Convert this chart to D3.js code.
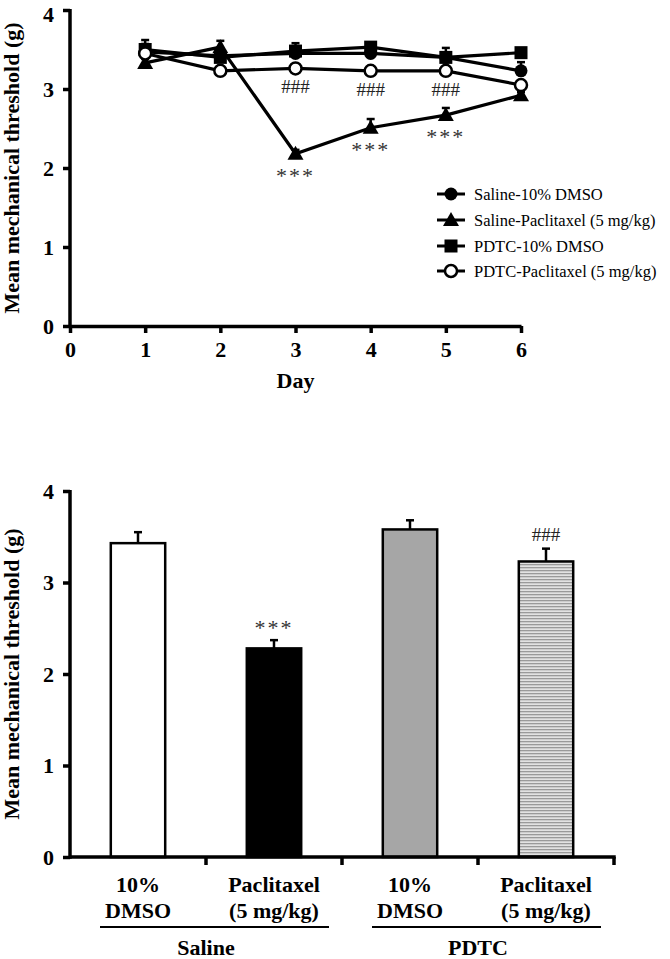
<!DOCTYPE html>
<html>
<head>
<meta charset="utf-8">
<script src="https://cdn.jsdelivr.net/npm/d3@7"></script>
<style>
  body { margin: 0; background: #fff; }
  svg { display: block; }
  text { font-family: "Liberation Serif", "Times New Roman", serif; }
</style>
</head>
<body>
<svg id="chart" width="670" height="959"></svg>
<script>
// ---------- Data: top panel (time course) ----------
const days = [1, 2, 3, 4, 5, 6];
const seriesNames = ["Saline-10% DMSO", "Saline-Paclitaxel (5 mg/kg)", "PDTC-10% DMSO", "PDTC-Paclitaxel (5 mg/kg)"];
const salineDmso = [3.47, 3.42, 3.45, 3.45, 3.40, 3.23];
const salineDmsoSE = [0.10, 0.05, 0.08, 0.08, 0.12, 0.11];
const salinePac = [3.33, 3.53, 2.18, 2.51, 2.67, 2.92];
const salinePacSE = [0.05, 0.08, 0.05, 0.11, 0.09, 0.04];
const pdtcDmso = [3.50, 3.40, 3.48, 3.53, 3.40, 3.46];
const pdtcDmsoSE = [0.12, 0.05, 0.10, 0.05, 0.05, 0.04];
const pdtcPac = [3.45, 3.23, 3.26, 3.23, 3.23, 3.05];
const pdtcPacSE = [0.05, 0.04, 0.04, 0.04, 0.04, 0.05];
const markerTypes = ["circle", "triangle", "square", "open"];
const xTicksTop = [0, 1, 2, 3, 4, 5, 6];
const yTicks = [0, 1, 2, 3, 4];
const starDays = [3, 4, 5];      // *** under Saline-Paclitaxel
const hashDays = [3, 4, 5];      // ### under PDTC-Paclitaxel

// ---------- Data: bottom panel (bars) ----------
const barCats = ["Saline-DMSO", "Saline-Pac", "PDTC-DMSO", "PDTC-Pac"];
const barLine1 = ["10%", "Paclitaxel", "10%", "Paclitaxel"];
const barLine2 = ["DMSO", "(5 mg/kg)", "DMSO", "(5 mg/kg)"];
const barValues = [3.43, 2.28, 3.58, 3.23];
const barSE = [0.12, 0.09, 0.10, 0.14];
const barMarks = ["", "***", "", "###"];
const groups = ["Saline", "PDTC"];

const svg = d3.select("#chart");
const serif = '"Liberation Serif", "Times New Roman", serif';

function styleAxis(g) {
  g.selectAll(".domain").attr("stroke", "#000").attr("stroke-width", 3.5);
  g.selectAll(".tick line").attr("stroke", "#000").attr("stroke-width", 3.5);
  g.selectAll(".tick text").attr("font-family", serif).attr("font-weight", "bold")
    .attr("font-size", 22).attr("fill", "#000");
}

// ================= TOP PANEL =================
const xT = d3.scaleLinear().domain([0, 6]).range([70, 521]);
const yT = d3.scaleLinear().domain([0, 4]).range([326, 10]);
const topG = svg.append("g");

const gxT = topG.append("g").attr("transform", `translate(0,${yT(0)})`)
  .call(d3.axisBottom(xT).tickValues(xTicksTop).tickFormat(d3.format("d")).tickSize(7).tickSizeOuter(0).tickPadding(8));
styleAxis(gxT);
const gyT = topG.append("g").attr("transform", `translate(${xT(0)},0)`)
  .call(d3.axisLeft(yT).tickValues(yTicks).tickFormat(d3.format("d")).tickSize(7).tickSizeOuter(0).tickPadding(9));
styleAxis(gyT);
gyT.select(".domain").attr("d", `M0,${yT(4) - 1}V${yT(0) + 1.75}`);
// keep the top "4" label inside the page
gyT.selectAll(".tick text").filter(d => d === 4).attr("dy", "0.5em");

topG.append("text").attr("transform", `translate(19,${(yT(0) + yT(4)) / 2}) rotate(-90)`)
  .attr("text-anchor", "middle").attr("font-weight", "bold").attr("font-size", 22)
  .text("Mean mechanical threshold (g)");
topG.append("text").attr("x", xT(3)).attr("y", 388).attr("text-anchor", "middle")
  .attr("font-weight", "bold").attr("font-size", 22).text("Day");

const seriesVals = [salineDmso, salinePac, pdtcDmso, pdtcPac];
const seriesSE = [salineDmsoSE, salinePacSE, pdtcDmsoSE, pdtcPacSE];

function drawMarker(g, type, cx, cy) {
  if (type === "circle") {
    g.append("circle").attr("cx", cx).attr("cy", cy).attr("r", 6.5).attr("fill", "#000");
  } else if (type === "open") {
    g.append("circle").attr("cx", cx).attr("cy", cy).attr("r", 6).attr("fill", "#fff")
      .attr("stroke", "#000").attr("stroke-width", 2.5);
  } else if (type === "square") {
    g.append("rect").attr("x", cx - 6.5).attr("y", cy - 6.5).attr("width", 13).attr("height", 13).attr("fill", "#000");
  } else if (type === "triangle") {
    g.append("path").attr("d", `M${cx},${cy - 8}L${cx + 8},${cy + 6}L${cx - 8},${cy + 6}Z`).attr("fill", "#000");
  }
}

const line = d3.line().x((d, i) => xT(days[i])).y(d => yT(d));
const drawOrder = [0, 2, 1, 3];
// error bars
drawOrder.forEach(s => {
  seriesVals[s].forEach((v, i) => {
    const cx = xT(days[i]), y1 = yT(v), y2 = yT(v + seriesSE[s][i]);
    topG.append("line").attr("x1", cx).attr("x2", cx).attr("y1", y1).attr("y2", y2)
      .attr("stroke", "#000").attr("stroke-width", 2.5);
    topG.append("line").attr("x1", cx - 4).attr("x2", cx + 4).attr("y1", y2).attr("y2", y2)
      .attr("stroke", "#000").attr("stroke-width", 2.5);
  });
});
drawOrder.forEach(s => {
  topG.append("path").datum(seriesVals[s]).attr("d", line).attr("fill", "none")
    .attr("stroke", "#000").attr("stroke-width", 3.2);
});
drawOrder.forEach(s => {
  seriesVals[s].forEach((v, i) => drawMarker(topG, markerTypes[s], xT(days[i]), yT(v)));
});

// annotations
starDays.forEach(d => {
  const i = days.indexOf(d);
  topG.append("text").attr("x", xT(d)).attr("y", yT(salinePac[i]) + 29).attr("text-anchor", "middle")
    .attr("font-size", 22).attr("fill", "#333").attr("letter-spacing", 2).text("***");
});
hashDays.forEach(d => {
  const i = days.indexOf(d);
  topG.append("text").attr("x", xT(d)).attr("y", yT(pdtcPac[i]) + 25).attr("text-anchor", "middle")
    .attr("font-size", 19).attr("fill", "#222").text("###");
});

// legend
const legY = [194, 220, 246, 271];
seriesNames.forEach((name, s) => {
  const ly = legY[s];
  topG.append("line").attr("x1", 437).attr("x2", 465).attr("y1", ly).attr("y2", ly)
    .attr("stroke", "#000").attr("stroke-width", 3);
  drawMarker(topG, markerTypes[s], 451, ly);
  topG.append("text").attr("x", 474).attr("y", ly + 6).attr("font-size", 16.5).text(name);
});

// ================= BOTTOM PANEL =================
const xB = d3.scaleBand().domain(barCats).range([70, 614]).paddingInner(0.6).paddingOuter(0.3);
const yB = d3.scaleLinear().domain([0, 4]).range([857, 491]);
const bot = svg.append("g");

const defs = svg.append("defs");
const pat = defs.append("pattern").attr("id", "hlines").attr("patternUnits", "userSpaceOnUse")
  .attr("width", 6).attr("height", 3);
pat.append("rect").attr("width", 6).attr("height", 3).attr("fill", "#e2e2e2");
pat.append("rect").attr("y", 0).attr("width", 6).attr("height", 1.3).attr("fill", "#9a9a9a");

const barFills = ["#fff", "#000", "#a6a6a6", "url(#hlines)"];

bot.selectAll("rect.bar").data(barValues).join("rect").attr("class", "bar")
  .attr("x", (d, i) => xB(barCats[i])).attr("width", xB.bandwidth())
  .attr("y", d => yB(d)).attr("height", d => yB(0) - yB(d))
  .attr("fill", (d, i) => barFills[i]).attr("stroke", "#000").attr("stroke-width", 2.5);

barValues.forEach((v, i) => {
  const cx = xB(barCats[i]) + xB.bandwidth() / 2, y1 = yB(v), y2 = yB(v + barSE[i]);
  bot.append("line").attr("x1", cx).attr("x2", cx).attr("y1", y1).attr("y2", y2)
    .attr("stroke", "#000").attr("stroke-width", 2.5);
  bot.append("line").attr("x1", cx - 4).attr("x2", cx + 4).attr("y1", y2).attr("y2", y2)
    .attr("stroke", "#000").attr("stroke-width", 2.5);
  if (barMarks[i] === "***") {
    bot.append("text").attr("x", cx).attr("y", y2 - 5).attr("text-anchor", "middle")
      .attr("font-size", 22).attr("fill", "#333").attr("letter-spacing", 2).text("***");
  } else if (barMarks[i] === "###") {
    bot.append("text").attr("x", cx).attr("y", y2 - 8).attr("text-anchor", "middle")
      .attr("font-size", 19).attr("fill", "#222").text("###");
  }
});

// axes
const gyB = bot.append("g").attr("transform", `translate(${xB.range()[0]},0)`)
  .call(d3.axisLeft(yB).tickValues(yTicks).tickFormat(d3.format("d")).tickSize(7).tickSizeOuter(0).tickPadding(9));
styleAxis(gyB);
gyB.select(".domain").attr("d", `M0,${yB(4) - 1}V${yB(0) + 1.75}`);

const step = xB.step();
const sepX = barCats.map(c => xB(c) + xB.bandwidth() / 2 + step / 2);
bot.append("line").attr("x1", xB.range()[0]).attr("x2", xB.range()[1] + 1.75)
  .attr("y1", yB(0)).attr("y2", yB(0)).attr("stroke", "#000").attr("stroke-width", 3.5);
sepX.forEach(x => {
  bot.append("line").attr("x1", x).attr("x2", x).attr("y1", yB(0)).attr("y2", yB(0) + 8)
    .attr("stroke", "#000").attr("stroke-width", 3.5);
});

barCats.forEach((c, i) => {
  const cx = xB(c) + xB.bandwidth() / 2;
  bot.append("text").attr("x", cx).attr("y", 892).attr("text-anchor", "middle")
    .attr("font-weight", "bold").attr("font-size", 22).text(barLine1[i]);
  bot.append("text").attr("x", cx).attr("y", 918).attr("text-anchor", "middle")
    .attr("font-weight", "bold").attr("font-size", 22).text(barLine2[i]);
});

groups.forEach((g, gi) => {
  const c0 = xB(barCats[gi * 2]) + xB.bandwidth() / 2;
  const c1 = xB(barCats[gi * 2 + 1]) + xB.bandwidth() / 2;
  bot.append("line").attr("x1", c0 - 38).attr("x2", c1 + 55).attr("y1", 927).attr("y2", 927)
    .attr("stroke", "#000").attr("stroke-width", 2);
  bot.append("text").attr("x", (c0 + c1) / 2).attr("y", 955).attr("text-anchor", "middle")
    .attr("font-weight", "bold").attr("font-size", 22).text(g);
});

bot.append("text").attr("transform", `translate(19,${(yB(0) + yB(4)) / 2}) rotate(-90)`)
  .attr("text-anchor", "middle").attr("font-weight", "bold").attr("font-size", 22)
  .text("Mean mechanical threshold (g)");
</script>
</body>
</html>
